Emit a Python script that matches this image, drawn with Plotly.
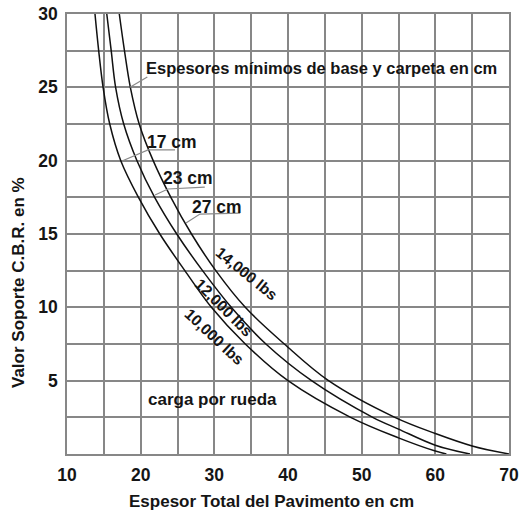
import plotly.graph_objects as go

# Curves: Valor soporte CBR (%) vs espesor total (cm)
x_10000 = [13.8, 14.3, 14.9, 15.8, 17.3, 19.7, 22.6, 26.0, 29.6, 34.2, 40.0, 48.5, 55.0, 60.0, 61.5]
y_10000 = [30.0, 27.5, 25.0, 22.5, 20.0, 17.5, 15.0, 12.5, 10.0, 7.5, 5.0, 2.5, 1.1, 0.2, 0.0]

x_12000 = [15.4, 16.0, 16.6, 17.7, 19.5, 21.9, 24.9, 28.4, 32.3, 37.0, 43.2, 51.5, 55.0, 60.0, 64.7]
y_12000 = [30.0, 27.5, 25.0, 22.5, 20.0, 17.5, 15.0, 12.5, 10.0, 7.5, 5.0, 2.5, 1.7, 0.6, 0.0]

x_14000 = [17.1, 17.8, 18.6, 19.8, 21.7, 24.1, 26.9, 30.2, 34.2, 39.5, 45.5, 54.5, 60.0, 65.0, 70.0]
y_14000 = [30.0, 27.5, 25.0, 22.5, 20.0, 17.5, 15.0, 12.5, 10.0, 7.5, 5.0, 2.5, 1.4, 0.55, 0.0]

x_ticks = [10, 15, 20, 25, 30, 35, 40, 45, 50, 55, 60, 65, 70]
x_labels = ["10", "", "20", "", "30", "", "40", "", "50", "", "60", "", "70"]
y_ticks = [0, 2.5, 5, 7.5, 10, 12.5, 15, 17.5, 20, 22.5, 25, 27.5, 30]
y_labels = ["", "", "5", "", "10", "", "15", "", "20", "", "25", "", "30"]

FONT = "Liberation Sans"
INK = "#151515"
GRID = "#878787"
LEAD = "#8a8a8a"

fig = go.Figure()
for xs, ys in [(x_10000, y_10000), (x_12000, y_12000), (x_14000, y_14000)]:
    fig.add_trace(go.Scatter(x=xs, y=ys, mode="lines",
                             line=dict(color="#111111", width=1.5, shape="spline", smoothing=1.0),
                             showlegend=False, hoverinfo="skip"))

# leader lines
leaders = [
    ([18.55, 20.9], [25.0, 25.7]),
    ([17.47, 21.0, 24.66], [19.98, 20.73, 20.73]),
    ([21.95, 23.7, 28.7], [17.66, 18.07, 18.2]),
    ([26.15, 28.05, 33.5], [15.75, 16.36, 16.43]),
]
for lx, ly in leaders:
    fig.add_trace(go.Scatter(x=lx, y=ly, mode="lines", line=dict(color=LEAD, width=1.2),
                             showlegend=False, hoverinfo="skip"))

def ann(text, x, y, size=17, angle=0):
    fig.add_annotation(x=x, y=y, xref="x", yref="y", text=text, showarrow=False,
                       xanchor="center", yanchor="middle",
                       textangle=angle, font=dict(family=FONT, size=size, color=INK, weight="bold"))

ann("Espesores mínimos de base y carpeta en cm", 44.5, 26.3, 16.5)
ann("17 cm", 24.25, 21.27, 17.5)
ann("23 cm", 26.4, 18.8, 17.5)
ann("27 cm", 30.4, 16.84, 17.5)
ann("14,000 lbs", 34.4, 12.34, 15.5, 39)
ann("12,000 lbs", 31.3, 10.0, 15.5, 45)
ann("10,000 lbs", 29.95, 7.98, 15.5, 43)
ann("carga por rueda", 29.7, 3.75, 17)

# axis titles placed as annotations
fig.add_annotation(x=(18 - 67) / 442, y=(454 - 283) / 440, xref="paper", yref="paper",
                   xanchor="center", yanchor="middle",
                   text="Valor Soporte C.B.R. en %", showarrow=False, textangle=-90,
                   font=dict(family=FONT, size=17, color=INK, weight="bold"))
fig.add_annotation(x=(271 - 67) / 442, y=(454 - 501) / 440, xref="paper", yref="paper",
                   xanchor="center", yanchor="middle",
                   text="Espesor Total del Pavimento en cm", showarrow=False,
                   font=dict(family=FONT, size=17, color=INK, weight="bold"))

fig.update_layout(
    width=519, height=513,
    margin=dict(l=67, r=10, t=14, b=59),
    paper_bgcolor="white", plot_bgcolor="white",
    font=dict(family=FONT, color=INK),
)
fig.update_xaxes(range=[10, 70], tickvals=x_ticks, ticktext=x_labels, automargin=False,
                 showgrid=True, gridcolor=GRID, gridwidth=1.5, zeroline=False,
                 showline=True, linecolor=GRID, linewidth=1.5, mirror=True,
                 ticks="", ticklabelstandoff=4,
                 tickfont=dict(family=FONT, size=17.5, color=INK, weight="bold"))
fig.update_yaxes(range=[0, 30], tickvals=y_ticks, ticktext=y_labels, automargin=False,
                 showgrid=True, gridcolor=GRID, gridwidth=1.5, zeroline=False,
                 showline=True, linecolor=GRID, linewidth=1.5, mirror=True,
                 ticks="", ticklabelstandoff=4,
                 tickfont=dict(family=FONT, size=17.5, color=INK, weight="bold"))

fig.write_html("out.html")
